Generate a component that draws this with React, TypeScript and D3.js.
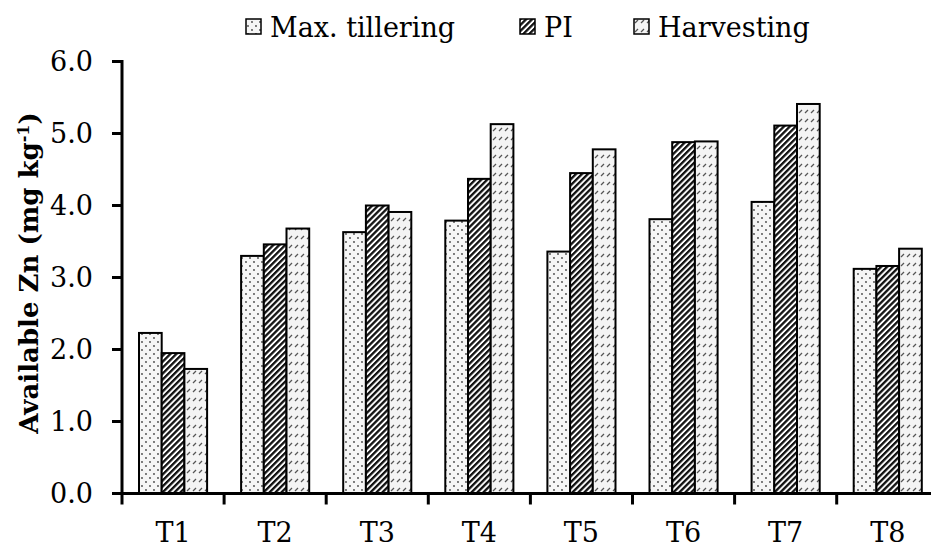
import { useEffect, useRef } from 'react';
import * as d3 from 'd3';

const treatments = ['T1', 'T2', 'T3', 'T4', 'T5', 'T6', 'T7', 'T8'];
const seriesNames = ['Max. tillering', 'PI', 'Harvesting'];
const maxTillering = [2.23, 3.30, 3.63, 3.79, 3.36, 3.81, 4.05, 3.12];
const pi = [1.95, 3.46, 4.00, 4.37, 4.45, 4.88, 5.11, 3.16];
const harvesting = [1.73, 3.68, 3.91, 5.13, 4.78, 4.89, 5.41, 3.40];
const yTicks = [0, 1, 2, 3, 4, 5, 6];

const W = 931;
const H = 547;

const App = () => {
  const svgRef = useRef(null);

  useEffect(() => {
    const svg = d3.select(svgRef.current);
    svg.selectAll('*').remove();

    const font = "'DejaVu Serif', serif";
    const left = 122;
    const bandW = 102.1;

    const x = d3.scaleBand().domain(treatments).range([left, left + bandW * treatments.length]);
    const inner = d3.scaleBand().domain(seriesNames).range([17, bandW - 17]);
    const y = d3.scaleLinear().domain([0, 6]).range([493.5, 61.5]);

    // patterns
    const defs = svg.append('defs');
    const dots = defs.append('pattern').attr('id', 'p-dots')
      .attr('patternUnits', 'userSpaceOnUse').attr('width', 8).attr('height', 8);
    dots.append('rect').attr('width', 8).attr('height', 8).attr('fill', '#f6f6f6');
    dots.append('circle').attr('cx', 2).attr('cy', 2).attr('r', 0.9).attr('fill', '#444');
    dots.append('circle').attr('cx', 6).attr('cy', 6).attr('r', 0.9).attr('fill', '#444');

    const stripes = defs.append('pattern').attr('id', 'p-stripes')
      .attr('patternUnits', 'userSpaceOnUse').attr('width', 4.2).attr('height', 4.2)
      .attr('patternTransform', 'rotate(45)');
    stripes.append('rect').attr('width', 4.2).attr('height', 4.2).attr('fill', '#fff');
    stripes.append('rect').attr('width', 2.3).attr('height', 4.2).attr('fill', '#111');

    const dash = defs.append('pattern').attr('id', 'p-dash')
      .attr('patternUnits', 'userSpaceOnUse').attr('width', 6).attr('height', 9);
    dash.append('rect').attr('width', 6).attr('height', 9).attr('fill', '#f4f4f4');
    dash.append('line').attr('x1', 1).attr('y1', 5).attr('x2', 4).attr('y2', 2)
      .attr('stroke', '#555').attr('stroke-width', 1.2);

    const fills = ['url(#p-dots)', 'url(#p-stripes)', 'url(#p-dash)'];
    const values = [maxTillering, pi, harvesting];

    // bars
    seriesNames.forEach((name, s) => {
      svg.append('g').selectAll('rect')
        .data(treatments.map((t, i) => ({ t, v: values[s][i] })))
        .enter()
        .append('rect')
        .attr('x', d => x(d.t) + inner(name))
        .attr('y', d => y(d.v))
        .attr('width', inner.bandwidth())
        .attr('height', d => y(0) - y(d.v))
        .attr('fill', fills[s])
        .attr('stroke', '#000')
        .attr('stroke-width', 2);
    });

    // y axis
    svg.append('line').attr('x1', left).attr('x2', left)
      .attr('y1', y(6) - 1.5).attr('y2', y(0) + 1.5)
      .attr('stroke', '#000').attr('stroke-width', 3);
    svg.append('g').selectAll('line').data(yTicks).enter().append('line')
      .attr('x1', left - 10).attr('x2', left)
      .attr('y1', d => y(d)).attr('y2', d => y(d))
      .attr('stroke', '#000').attr('stroke-width', 3);
    svg.append('g').selectAll('text').data(yTicks).enter().append('text')
      .attr('x', 93).attr('y', d => y(d))
      .attr('dy', '0.36em')
      .attr('text-anchor', 'end')
      .attr('font-family', font).attr('font-size', 27)
      .text(d => d3.format('.1f')(d));

    // x axis
    svg.append('line').attr('x1', left - 10).attr('x2', W)
      .attr('y1', y(0)).attr('y2', y(0))
      .attr('stroke', '#000').attr('stroke-width', 3);
    svg.append('g').selectAll('line').data(d3.range(treatments.length + 1)).enter().append('line')
      .attr('x1', i => left + i * bandW).attr('x2', i => left + i * bandW)
      .attr('y1', y(0)).attr('y2', y(0) + 11)
      .attr('stroke', '#000').attr('stroke-width', 3);
    svg.append('g').selectAll('text').data(treatments).enter().append('text')
      .attr('x', d => x(d) + x.bandwidth() / 2).attr('y', 542)
      .attr('text-anchor', 'middle')
      .attr('font-family', font).attr('font-size', 27)
      .text(d => d);

    // y title
    const title = svg.append('text')
      .attr('transform', 'translate(38,273) rotate(-90)')
      .attr('text-anchor', 'middle')
      .attr('font-family', font).attr('font-size', 26).attr('font-weight', 'bold');
    title.append('tspan').text('Available Zn (mg kg');
    title.append('tspan').attr('baseline-shift', 'super').attr('font-size', 16).text('-1');
    title.append('tspan').text(')');

    // legend
    const legendX = [246, 520, 634];
    const legend = svg.append('g').selectAll('g').data(seriesNames).enter().append('g')
      .attr('transform', (d, i) => `translate(${legendX[i]},0)`);
    legend.append('rect').attr('x', 0).attr('y', 19).attr('width', 15).attr('height', 15)
      .attr('fill', (d, i) => fills[i]).attr('stroke', '#000').attr('stroke-width', 1.5);
    legend.append('text').attr('x', 24).attr('y', 37)
      .attr('font-family', font).attr('font-size', 27)
      .text(d => d);
  }, []);

  return (
    <svg ref={svgRef} width={W} height={H}
      style={{ position: 'absolute', left: 0, top: 0, background: '#fff' }} />
  );
};

export default App;
